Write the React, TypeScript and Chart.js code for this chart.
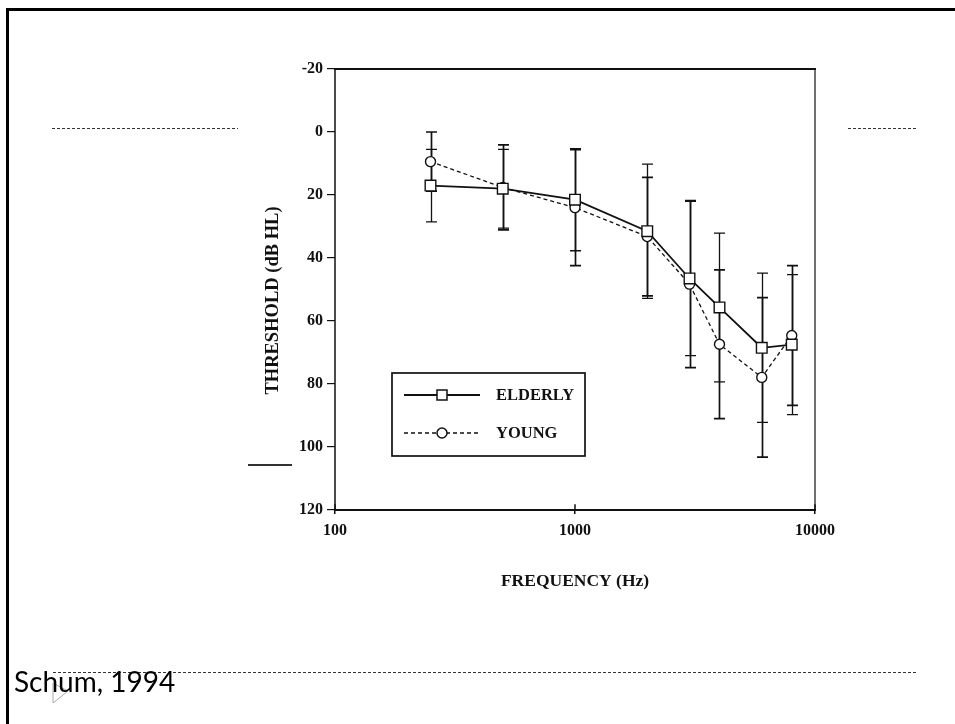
import React, { useEffect, useRef } from "react";
import { Chart, registerables } from "chart.js";

Chart.register(...registerables);

// ---- data ----
const frequencies = [250, 500, 1000, 2000, 3000, 4000, 6000, 8000];
const elderly = [17, 18, 21.5, 31.5, 46.5, 55.7, 68.5, 67.5];
const elderlyErr = [11.5, 12.5, 16.2, 21.3, 24.5, 23.6, 23.7, 22.2];
const young = [9.4, 17.6, 24, 33.2, 48.3, 67.4, 77.9, 64.6];
const youngErr = [9.4, 13.5, 18.4, 18.8, 26.5, 23.6, 25.3, 22.2];
const xTickValues = [100, 1000, 10000];
const yTickValues = [-20, 0, 20, 40, 60, 80, 100, 120];
const seriesNames = ["ELDERLY", "YOUNG"];
const xTitle = "FREQUENCY (Hz)";
const yTitle = "THRESHOLD (dB HL)";
const citation = "Schum, 1994";

const SERIF = "'Liberation Serif', 'Times New Roman', serif";
const INK = "#111";

const errorLists = [elderlyErr, youngErr];

const errorBarPlugin = {
  id: "errorBars",
  beforeDatasetsDraw(chart: any) {
    const { ctx } = chart;
    const xs = chart.scales.x;
    const ys = chart.scales.y;
    chart.data.datasets.forEach((ds: any, i: number) => {
      const errs = errorLists[i];
      ctx.save();
      ctx.strokeStyle = INK;
      ctx.lineWidth = i === 0 ? 1.3 : 1.7;
      ds.data.forEach((p: any, j: number) => {
        const px = Math.round(xs.getPixelForValue(p.x)) + 0.5;
        const t = ys.getPixelForValue(p.y - errs[j]);
        const b = ys.getPixelForValue(p.y + errs[j]);
        ctx.beginPath();
        ctx.moveTo(px, t);
        ctx.lineTo(px, b);
        ctx.moveTo(px - 5.5, t);
        ctx.lineTo(px + 5.5, t);
        ctx.moveTo(px - 5.5, b);
        ctx.lineTo(px + 5.5, b);
        ctx.stroke();
      });
      ctx.restore();
    });
  },
};

const framePlugin = {
  id: "frame",
  afterDatasetsDraw(chart: any) {
    const { ctx, chartArea } = chart;
    const { left, right, top, bottom } = chartArea;
    ctx.save();
    ctx.strokeStyle = INK;
    ctx.lineCap = "square";
    const line = (x1: number, y1: number, x2: number, y2: number, w: number) => {
      ctx.lineWidth = w;
      ctx.beginPath();
      ctx.moveTo(x1, y1);
      ctx.lineTo(x2, y2);
      ctx.stroke();
    };
    line(left, top, right, top, 2);
    line(right, top, right, bottom, 1.2);
    line(left, bottom, right, bottom, 2);
    line(left, top, left, bottom, 1.5);
    const xs = chart.scales.x;
    xTickValues.forEach((v) => {
      const px = xs.getPixelForValue(v);
      line(px, bottom, px, bottom - 5, 1.5);
    });
    // y axis title (drawn slightly below centre, as in the source figure)
    ctx.save();
    ctx.fillStyle = INK;
    ctx.font = `bold 18.5px ${SERIF}`;
    ctx.textAlign = "center";
    ctx.textBaseline = "middle";
    ctx.translate(left - 62, (top + bottom) / 2 + 11);
    ctx.rotate(-Math.PI / 2);
    ctx.fillText(yTitle, 0, 0);
    ctx.restore();
    ctx.restore();
  },
};

const legendPlugin = {
  id: "boxLegend",
  afterDraw(chart: any) {
    const { ctx, chartArea } = chart;
    const bx = chartArea.left + 57;
    const by = chartArea.top + 304;
    const bw = 193;
    const bh = 83;
    ctx.save();
    ctx.strokeStyle = INK;
    ctx.fillStyle = "#fff";
    ctx.lineWidth = 1.7;
    ctx.fillRect(bx, by, bw, bh);
    ctx.strokeRect(bx, by, bw, bh);
    chart.data.datasets.forEach((ds: any, i: number) => {
      const ry = by + 22 + i * 38;
      ctx.lineWidth = ds.borderWidth;
      ctx.setLineDash(ds.borderDash || []);
      ctx.beginPath();
      ctx.moveTo(bx + 12, ry);
      ctx.lineTo(bx + 88, ry);
      ctx.stroke();
      ctx.setLineDash([]);
      ctx.lineWidth = 1.5;
      ctx.fillStyle = "#fff";
      const mx = bx + 50;
      ctx.beginPath();
      if (ds.pointStyle === "rect") {
        ctx.rect(mx - 5, ry - 5, 10, 10);
      } else {
        ctx.arc(mx, ry, 5, 0, Math.PI * 2);
      }
      ctx.fill();
      ctx.stroke();
      ctx.fillStyle = INK;
      ctx.font = `bold 16.5px ${SERIF}`;
      ctx.textBaseline = "middle";
      ctx.textAlign = "left";
      ctx.fillText(seriesNames[i], bx + 104, ry + 1);
    });
    ctx.restore();
  },
};

export default function App() {
  const ref = useRef<HTMLCanvasElement>(null);

  useEffect(() => {
    const canvas = ref.current!;
    const chart = new Chart(canvas, {
      type: "line",
      data: {
        datasets: [
          {
            label: seriesNames[0],
            data: frequencies.map((f, i) => ({ x: f, y: elderly[i] })),
            borderColor: INK,
            borderWidth: 1.8,
            pointStyle: "rect",
            pointRadius: 7.5,
            pointBackgroundColor: "#fff",
            pointBorderColor: INK,
            pointBorderWidth: 1.4,
            tension: 0,
          },
          {
            label: seriesNames[1],
            data: frequencies.map((f, i) => ({ x: f, y: young[i] })),
            borderColor: INK,
            borderWidth: 1.3,
            borderDash: [4, 3],
            pointStyle: "circle",
            pointRadius: 5,
            pointBackgroundColor: "#fff",
            pointBorderColor: INK,
            pointBorderWidth: 1.4,
            tension: 0,
          },
        ],
      },
      options: {
        animation: false,
        responsive: false,
        devicePixelRatio: 1,
        events: [],
        layout: { padding: { left: 255, right: 140, top: 69, bottom: 124 } },
        plugins: {
          legend: { display: false },
          tooltip: { enabled: false },
        },
        scales: {
          x: {
            type: "logarithmic",
            min: 100,
            max: 10000,
            afterFit(scale: any) {
              scale.height = 90;
            },
            afterBuildTicks(scale: any) {
              scale.ticks = xTickValues.map((v) => ({ value: v }));
            },
            border: { display: false },
            grid: {
              drawOnChartArea: false,
              drawTicks: true,
              tickLength: 4,
              color: INK,
              lineWidth: 1.5,
            },
            ticks: {
              autoSkip: false,
              maxRotation: 0,
              padding: 7,
              color: INK,
              font: { family: SERIF, size: 16, weight: "bold" },
              callback: (v: any) => String(v),
            },
            title: {
              display: true,
              text: xTitle,
              color: INK,
              font: { family: SERIF, size: 17.5, weight: "bold" },
              padding: { top: 0, bottom: 8 },
            },
          },
          y: {
            type: "linear",
            reverse: true,
            min: -20,
            max: 120,
            afterFit(scale: any) {
              scale.width = 80;
            },
            afterBuildTicks(scale: any) {
              scale.ticks = yTickValues.map((v) => ({ value: v }));
            },
            border: { display: false },
            grid: {
              drawOnChartArea: false,
              drawTicks: true,
              tickLength: 8,
              color: INK,
              lineWidth: 1.2,
            },
            ticks: {
              padding: 4,
              color: INK,
              font: { family: SERIF, size: 16, weight: "bold" },
              callback: (v: any) => String(v),
            },
            title: { display: false, text: yTitle },
          },
        },
      },
      plugins: [errorBarPlugin, framePlugin, legendPlugin],
    } as any);
    return () => chart.destroy();
  }, []);

  const dash = "repeating-linear-gradient(to right, #333 0 3px, transparent 3px 5px)";

  return (
    <>
      <div style={{ position: "fixed", left: 6, top: 8, width: 949, height: 3, background: "#000" }} />
      <div style={{ position: "fixed", left: 6, top: 8, width: 3, height: 716, background: "#000" }} />
      <div style={{ position: "fixed", left: 52, top: 128, width: 186, height: 1, background: dash }} />
      <div style={{ position: "fixed", left: 848, top: 128, width: 70, height: 1, background: dash }} />
      <div style={{ position: "fixed", left: 53, top: 672, width: 865, height: 1, background: dash }} />
      <div style={{ position: "fixed", left: 248, top: 464, width: 44, height: 1.5, background: "#333" }} />
      <canvas ref={ref} width={955} height={724} style={{ position: "fixed", left: 0, top: 0 }} />
      <svg width={20} height={24} style={{ position: "fixed", left: 51, top: 681 }}>
        <polygon points="2,2 17,10 2,22" fill="none" stroke="#aaa" strokeWidth={1} />
      </svg>
      <div
        style={{
          position: "fixed",
          left: 14,
          top: 667,
          fontFamily: "Lato, 'Open Sans', sans-serif",
          fontSize: 28,
          lineHeight: 1,
          color: "#000",
          whiteSpace: "nowrap",
        }}
      >
        {citation}
      </div>
    </>
  );
}
